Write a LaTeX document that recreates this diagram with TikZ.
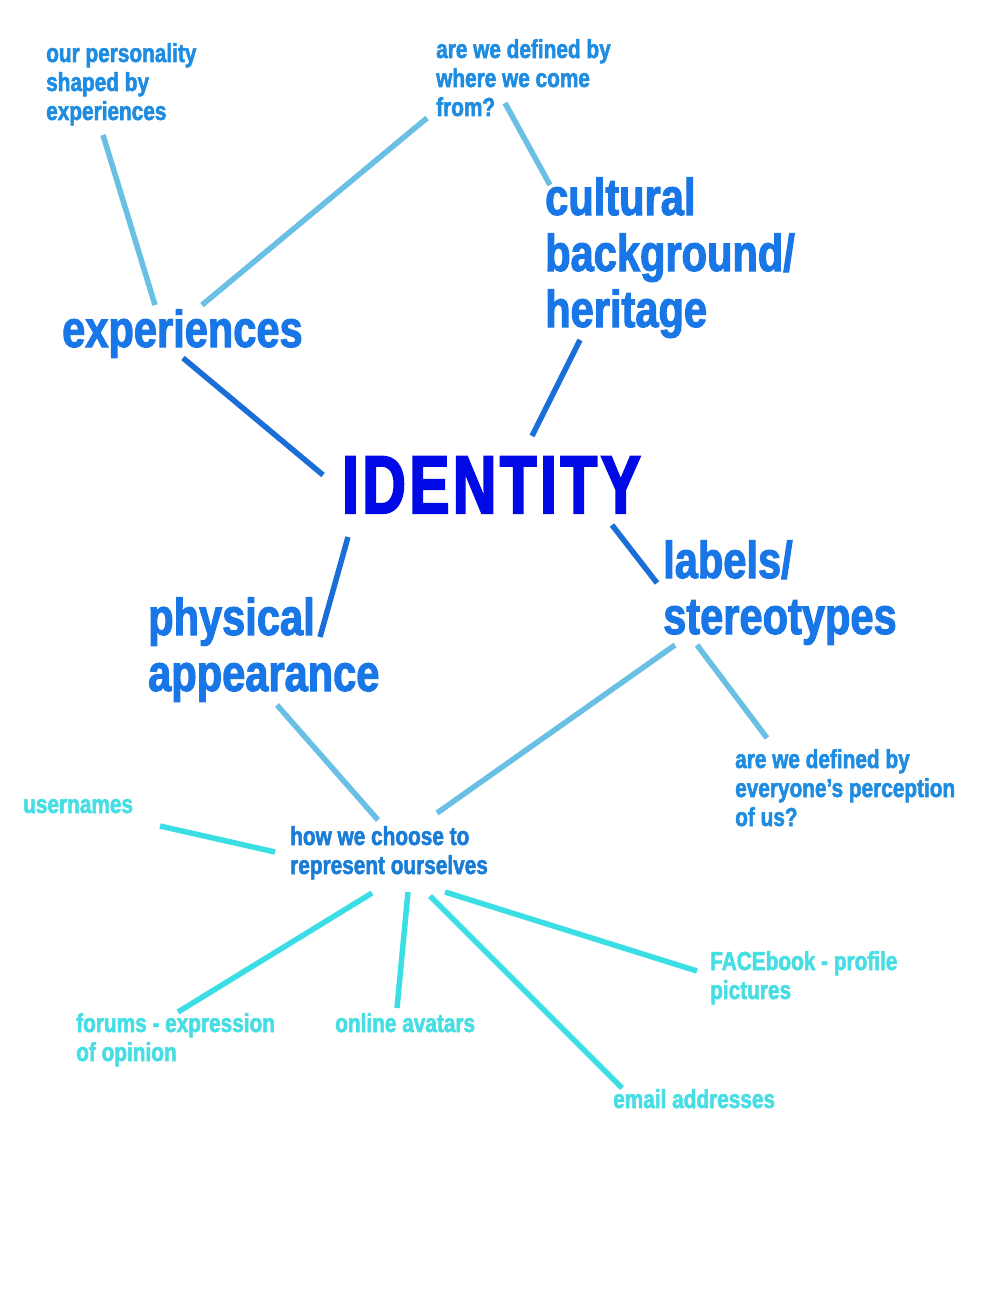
\documentclass[tikz,border=0pt]{standalone}
\usepackage{fontspec}
\usepackage{tikz}
\newfontfamily\condfont{Liberation Sans Bold}[FakeStretch=0.8, FakeBold=2]
\newfontfamily\heavyfont{Liberation Sans Bold}[FakeStretch=0.73, FakeBold=2.6, LetterSpace=4.5]

\definecolor{idblue}{RGB}{0,10,230}
\definecolor{bigblue}{RGB}{25,118,230}
\definecolor{askblue}{RGB}{30,140,225}
\definecolor{howblue}{RGB}{25,125,215}
\definecolor{cyantext}{RGB}{70,222,228}
\definecolor{darkline}{RGB}{25,110,215}
\definecolor{paleline}{RGB}{105,192,228}
\definecolor{cyanline}{RGB}{60,222,230}

\tikzset{
  word/.style={inner sep=0pt, anchor=base west, align=left},
  main/.style={word, text=idblue, font=\heavyfont\fontsize{82}{90}\selectfont},
  topic/.style={word, text=bigblue, font=\condfont\fontsize{52}{56}\selectfont},
  ask/.style={word, text=askblue, font=\condfont\fontsize{26}{29}\selectfont},
  leaf/.style={word, text=cyantext, font=\condfont\fontsize{26}{29}\selectfont},
  link/.style={line width=5.5pt, darkline},
  pale/.style={line width=5.5pt, paleline},
  cyanlink/.style={line width=5.5pt, cyanline}
}

\begin{document}
\begin{tikzpicture}[x=1pt, y=-1pt]
  \fill[white] (0,0) rectangle (1000,1300);
  \useasboundingbox (0,0) rectangle (1000,1300);

  % centre and the main topics (placed by their last baseline)
  \node[main] (identity) at (342,513) {IDENTITY};
  \node[topic] (experiences) at (62,347) {experiences};
  \node[topic] (cultural) at (545,327) {cultural\\background/\\heritage};
  \node[topic] (physical) at (148,691) {physical\\appearance};
  \node[topic] (labels) at (663,634) {labels/\\stereotypes};

  % questions
  \node[ask] (personality) at (46,120) {our personality\\shaped by\\experiences};
  \node[ask] (origin) at (436,116) {are we defined by\\where we come\\from?};
  \node[ask] (perception) at (735,826) {are we defined by\\everyone’s perception\\of us?};
  \node[ask, text=howblue] (represent) at (290,874) {how we choose to\\represent ourselves};

  % ways we show ourselves
  \node[leaf] (usernames) at (23,813) {usernames};
  \node[leaf] (forums) at (76,1061) {forums - expression\\of opinion};
  \node[leaf] (avatars) at (335,1032) {online avatars};
  \node[leaf] (facebook) at (710,999) {FACEbook - profile\\pictures};
  \node[leaf] (email) at (613,1108) {email addresses};

  \draw[pale] ([shift={(57,15)}]personality.base west) -- ([shift={(93,-42)}]experiences.base west);
  \draw[pale] ([shift={(-9,2)}]origin.base west) -- ([shift={(140,-42)}]experiences.base west);
  \draw[pale] ([shift={(69,-13)}]origin.base west) -- ([shift={(5,-142)}]cultural.base west);

  \draw[link] ([shift={(121,11)}]experiences.base west) -- ([shift={(-19,-38)}]identity.base west);
  \draw[link] ([shift={(35,13)}]cultural.base west) -- ([shift={(190,-77)}]identity.base west);
  \draw[link] ([shift={(6,24)}]identity.base west) -- ([shift={(172,-54)}]physical.base west);
  \draw[link] ([shift={(270,12)}]identity.base west) -- ([shift={(-6,-51)}]labels.base west);

  \draw[pale] ([shift={(129,14)}]physical.base west) -- ([shift={(88,-54)}]represent.base west);
  \draw[pale] ([shift={(12,11)}]labels.base west) -- ([shift={(147,-61)}]represent.base west);
  \draw[pale] ([shift={(34,11)}]labels.base west) -- ([shift={(32,-88)}]perception.base west);

  \draw[cyanlink] ([shift={(-15,-22)}]represent.base west) -- ([shift={(137,13)}]usernames.base west);
  \draw[cyanlink] ([shift={(82,19)}]represent.base west) -- ([shift={(102,-49)}]forums.base west);
  \draw[cyanlink] ([shift={(118,18)}]represent.base west) -- ([shift={(62,-24)}]avatars.base west);
  \draw[cyanlink] ([shift={(140,22)}]represent.base west) -- ([shift={(9,-20)}]email.base west);
  \draw[cyanlink] ([shift={(155,18)}]represent.base west) -- ([shift={(-13,-28)}]facebook.base west);
\end{tikzpicture}
\end{document}
